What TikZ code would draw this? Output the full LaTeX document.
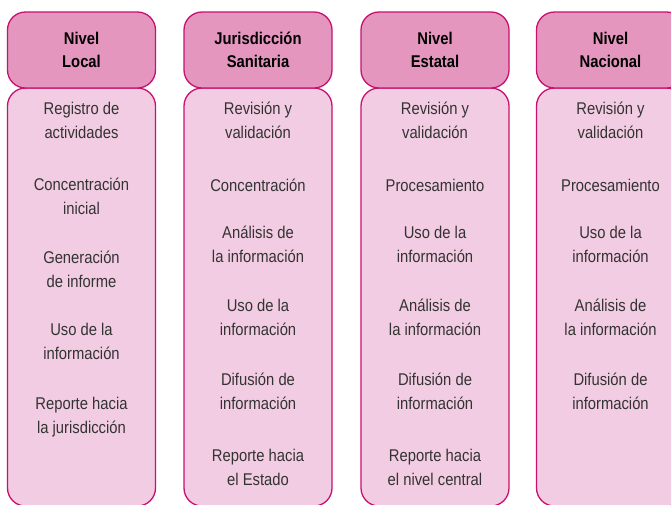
\documentclass[tikz,border=0pt]{standalone}
\usepackage{fontspec}
\setmainfont[FakeStretch=0.87]{Liberation Sans}
\definecolor{borde}{RGB}{200,16,110}
\definecolor{cabeza}{RGB}{228,150,190}
\definecolor{cuerpo}{RGB}{242,204,226}
\tikzstyle{encabezado} = [rectangle, rounded corners=18pt, draw=borde, line width=1.3pt, fill=cabeza, minimum width=148pt, minimum height=76pt, align=center, font=\fontsize{17}{23}\selectfont\bfseries]
\tikzstyle{columna} = [rectangle, rounded corners=18pt, draw=borde, line width=1.3pt, fill=cuerpo, minimum width=148pt, minimum height=418pt]
\tikzstyle{tarea} = [align=center, text=black!80, font=\fontsize{17}{24}\selectfont]

\begin{document}
\begin{tikzpicture}[x=1pt,y=1pt]
        \useasboundingbox (0,0) rectangle (671,-504);

        % cuerpos de las columnas
        \node (c1) [columna] at (81.5,-297) {};
        \node (c2) [columna] at (258,-297) {};
        \node (c3) [columna] at (435,-297) {};
        \node (c4) [columna] at (610.5,-297) {};

        % encabezados
        \node (local) [encabezado] at (81.5,-50) {Nivel\\Local};
        \node (juris) [encabezado] at (258,-50) {Jurisdicción\\Sanitaria};
        \node (estatal) [encabezado] at (435,-50) {Nivel\\Estatal};
        \node (nacional) [encabezado] at (610.5,-50) {Nivel\\Nacional};

        % nivel local
        \node (l1) [tarea] at (81.5,-120) {Registro de\\actividades};
        \node (l2) [tarea] at (81.5,-196) {Concentración\\inicial};
        \node (l3) [tarea] at (81.5,-269) {Generación\\de informe};
        \node (l4) [tarea] at (81.5,-341) {Uso de la\\información};
        \node (l5) [tarea] at (81.5,-417) {Reporte hacia\\la jurisdicción};

        % jurisdiccion sanitaria
        \node (j1) [tarea] at (258,-120) {Revisión y\\validación};
        \node (j2) [tarea] at (258,-185) {Concentración};
        \node (j3) [tarea] at (258,-244) {Análisis de\\la información};
        \node (j4) [tarea] at (258,-317) {Uso de la\\información};
        \node (j5) [tarea] at (258,-391) {Difusión de\\información};
        \node (j6) [tarea] at (258,-467) {Reporte hacia\\el Estado};

        % nivel estatal
        \node (e1) [tarea] at (435,-120) {Revisión y\\validación};
        \node (e2) [tarea] at (435,-185) {Procesamiento};
        \node (e3) [tarea] at (435,-244) {Uso de la\\información};
        \node (e4) [tarea] at (435,-317) {Análisis de\\la información};
        \node (e5) [tarea] at (435,-391) {Difusión de\\información};
        \node (e6) [tarea] at (435,-467) {Reporte hacia\\el nivel central};

        % nivel nacional
        \node (n1) [tarea] at (610.5,-120) {Revisión y\\validación};
        \node (n2) [tarea] at (610.5,-185) {Procesamiento};
        \node (n3) [tarea] at (610.5,-244) {Uso de la\\información};
        \node (n4) [tarea] at (610.5,-317) {Análisis de\\la información};
        \node (n5) [tarea] at (610.5,-391) {Difusión de\\información};

    \end{tikzpicture}
\end{document}
